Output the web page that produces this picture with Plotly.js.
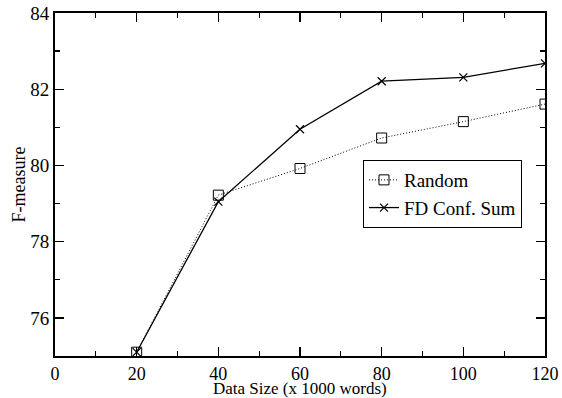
<!DOCTYPE html>
<html><head><meta charset="utf-8">
<script src="https://cdn.plot.ly/plotly-3.0.1.min.js"></script>
<style>html,body{margin:0;padding:0;background:#fff}</style>
</head><body><div id="chart" style="width:562px;height:398px"></div>
<script>
var dataSizes = [20, 40, 60, 80, 100, 120];
var randomF = [75.1, 79.22, 79.92, 80.72, 81.15, 81.61];
var fdConfSumF = [75.1, 79.05, 80.95, 82.21, 82.31, 82.68];
var seriesNames = ["Random", "FD Conf. Sum"];
var xTitle = "Data Size (x 1000 words)";
var yTitle = "F-measure";

var fam = "Liberation Serif";
var traces = [
  {x: dataSizes, y: randomF, name: seriesNames[0], type: "scatter", mode: "lines+markers",
   line: {color: "#000", width: 1, dash: "1px,2px"},
   marker: {symbol: "square-open", size: 10, color: "#000", line: {width: 1}}},
  {x: dataSizes, y: fdConfSumF, name: seriesNames[1], type: "scatter", mode: "lines+markers",
   line: {color: "#000", width: 1.3},
   marker: {symbol: "x-thin-open", size: 8, color: "#000", line: {width: 1.2, color: "#000"}}}
];
function axisCommon() {
  return {showgrid: false, zeroline: false, showline: true, linecolor: "#000", linewidth: 2,
    mirror: "ticks", ticks: "inside", ticklen: 9, tickwidth: 1.3, tickcolor: "#000",
    tickfont: {family: fam, size: 19, color: "#000"}, automargin: false};
}
var xa = axisCommon();
Object.assign(xa, {range: [0, 120], dtick: 20, tick0: 0,
  tickfont: {family: fam, size: 18, color: "#000"},
  minor: {ticks: "inside", dtick: 10, ticklen: 5, tickwidth: 1.3, tickcolor: "#000"}});
var ya = axisCommon();
Object.assign(ya, {range: [75, 84], dtick: 2, tick0: 76,
  minor: {ticks: "inside", dtick: 1, ticklen: 5, tickwidth: 1.3, tickcolor: "#000"}});
var layout = {
  width: 562, height: 398,
  margin: {l: 55, r: 17, t: 13, b: 42},
  paper_bgcolor: "#fff", plot_bgcolor: "#fff",
  font: {family: fam, color: "#000"},
  showlegend: true,
  xaxis: xa, yaxis: ya,
  annotations: [
    {text: xTitle, xref: "paper", yref: "paper", x: 0.5, y: -0.094, xanchor: "center", yanchor: "middle",
     showarrow: false, borderpad: 0, font: {family: fam, size: 17, color: "#000"}},
    {text: yTitle, xref: "paper", yref: "paper", x: -0.0735, y: 0.5, xanchor: "center", yanchor: "middle",
     textangle: -90, showarrow: false, font: {family: fam, size: 18, color: "#000"}}
  ],
  legend: {x: 0.6286, y: 0.5714, xanchor: "left", yanchor: "top", bgcolor: "#fff",
    bordercolor: "#000", borderwidth: 1, font: {family: fam, size: 19, color: "#000"},
    tracegroupgap: 0, itemwidth: 30}
};
Plotly.newPlot("chart", traces, layout, {displayModeBar: false, staticPlot: true});
</script></body></html>
